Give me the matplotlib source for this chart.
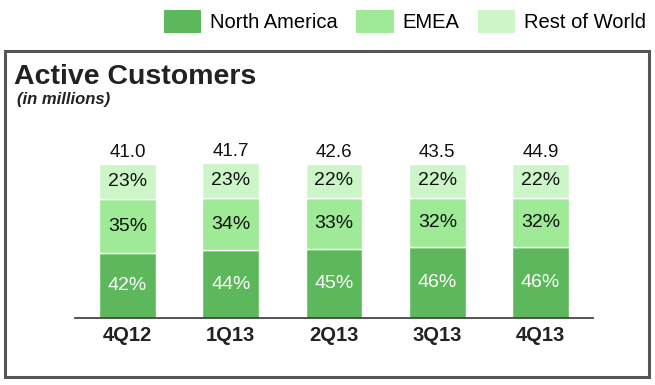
import matplotlib
matplotlib.use("Agg")
import matplotlib.pyplot as plt
import numpy as np
from matplotlib.patches import Patch, Rectangle

quarters = ['4Q12', '1Q13', '2Q13', '3Q13', '4Q13']
totals = [41.0, 41.7, 42.6, 43.5, 44.9]
north_america = [42, 44, 45, 46, 46]
emea = [35, 34, 33, 32, 32]
rest_of_world = [23, 23, 22, 22, 22]

series_names = ['North America', 'EMEA', 'Rest of World']
colors = ['#5cb85a', '#9eea96', '#cdf6c8']
text_colors = ['white', '#111111', '#111111']

plt.rcParams['font.family'] = ['Liberation Sans', 'DejaVu Sans']

W, H = 655, 385
fig = plt.figure(figsize=(W / 100, H / 100), dpi=100)

# frame around the chart area
fig.patches.append(Rectangle((5 / W, 1 - 377 / H), 644 / W, 326 / H, transform=fig.transFigure,
                             fill=False, edgecolor='#555555', linewidth=2.2))

# axes placed in pixel terms: baseline at y=318, bar top at ~164
ax = fig.add_axes([75 / W, 1 - 318 / H, 518 / W, 154 / H])
x = np.arange(len(quarters))
width = 0.55

bottom = np.zeros(len(quarters))
for vals, name, col, tcol in zip([north_america, emea, rest_of_world], series_names, colors, text_colors):
    vals = np.array(vals, dtype=float)
    ax.bar(x, vals, width, bottom=bottom, color=col, edgecolor='white', linewidth=1.0, label=name)
    for xi, b, v in zip(x, bottom, vals):
        ax.text(xi, b + v / 2, f'{int(v)}%', ha='center', va='center', fontsize=14, color=tcol)
    bottom += vals

for xi, t, top in zip(x, totals, bottom):
    ax.annotate(f'{t:.1f}', (xi, top), xytext=(0, 2), textcoords='offset points',
                ha='center', va='bottom', fontsize=13.5, color='#111111', annotation_clip=False)

ax.set_xlim(-0.507, len(quarters) - 1 + 0.507)
ax.set_ylim(0, 100)
ax.set_xticks(x)
ax.set_xticklabels(quarters, fontsize=14.5, fontweight='bold', color='#222222')
ax.tick_params(axis='x', length=0, pad=6)
ax.set_yticks([])
for s in ['top', 'right', 'left']:
    ax.spines[s].set_visible(False)
ax.spines['bottom'].set_color('#444444')
ax.spines['bottom'].set_linewidth(1.3)

fig.text(14 / W, 1 - 84 / H, 'Active Customers', fontsize=20.5, fontweight='bold',
         color='#222222', va='baseline', ha='left')
fig.text(17 / W, 1 - 104 / H, '(in millions)', fontsize=12, fontweight='bold', style='italic',
         color='#222222', va='baseline', ha='left')

handles = [Patch(facecolor=c, edgecolor='none') for c in colors]
fig.legend(handles, series_names, loc='upper right', bbox_to_anchor=(652 / W, 1 - 4 / H),
           ncol=3, frameon=False, fontsize=14.5, handlelength=1.85, handleheight=1.4,
           handletextpad=0.45, columnspacing=0.9, borderaxespad=0, borderpad=0.3)

fig.savefig('out.png', dpi=100)
